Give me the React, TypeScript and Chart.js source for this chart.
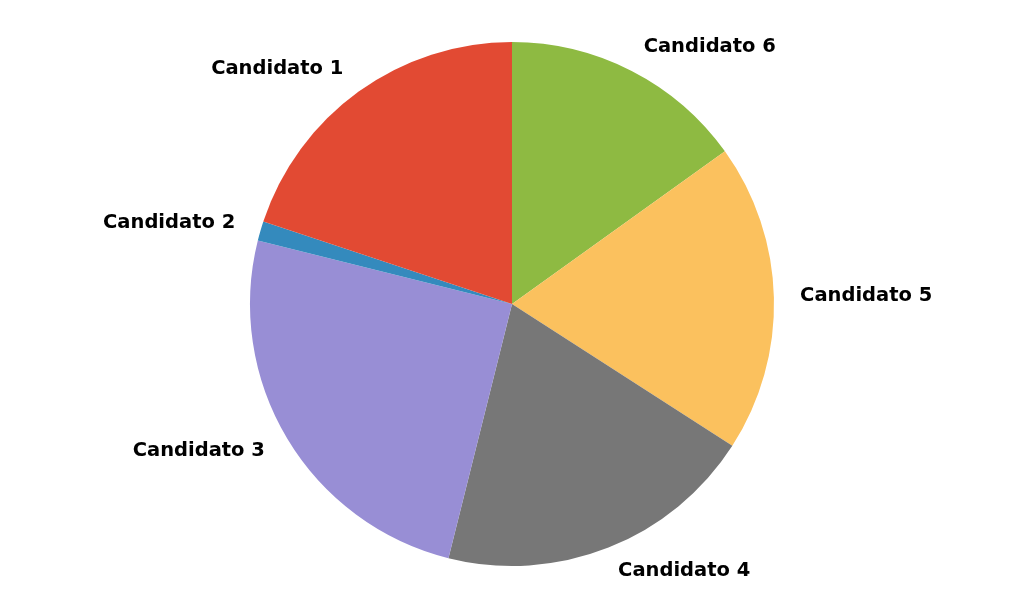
import React, { useEffect, useRef } from "react";
import { Chart, registerables } from "chart.js";

Chart.register(...registerables);

// Matplotlib draws counter-clockwise from the top; Chart.js draws clockwise,
// so the categories are listed here in clockwise order (6 → 1).
const categories = ["Candidato 6", "Candidato 5", "Candidato 4", "Candidato 3", "Candidato 2", "Candidato 1"];
const values = [15.1, 19.0, 19.8, 25.0, 1.2, 19.9];
const colors = ["#8EBA42", "#FBC15E", "#777777", "#988ED5", "#348ABD", "#E24A33"];

const labelPlugin = {
  id: "outerLabels",
  afterDraw(chart: any) {
    const meta = chart.getDatasetMeta(0);
    const ctx = chart.ctx;
    ctx.save();
    ctx.font = "bold 19.5px 'DejaVu Sans'";
    ctx.fillStyle = "#000000";
    ctx.textBaseline = "middle";
    meta.data.forEach((arc: any, i: number) => {
      const mid = (arc.startAngle + arc.endAngle) / 2;
      const r = arc.outerRadius * 1.1;
      const x = arc.x + r * Math.cos(mid);
      const y = arc.y + r * Math.sin(mid);
      ctx.textAlign = x > arc.x ? "left" : "right";
      ctx.fillText(chart.data.labels[i], x, y - 1);
    });
    ctx.restore();
  },
};

export default function App() {
  const ref = useRef<HTMLCanvasElement>(null);
  useEffect(() => {
    const chart = new Chart(ref.current!, {
      type: "pie",
      data: {
        labels: categories,
        datasets: [
          {
            data: values,
            backgroundColor: colors,
            borderWidth: 0,
          },
        ],
      },
      options: {
        animation: false,
        responsive: false,
        layout: { padding: { top: 42, bottom: 48, left: 100, right: 100 } },
        plugins: { legend: { display: false }, tooltip: { enabled: false } },
      },
      plugins: [labelPlugin],
    });
    return () => chart.destroy();
  }, []);
  return (
    <div style={{ position: "fixed", left: 0, top: 0, width: 1024, height: 614, background: "#fff" }}>
      <canvas ref={ref} width={1024} height={614} style={{ width: 1024, height: 614 }} />
    </div>
  );
}
